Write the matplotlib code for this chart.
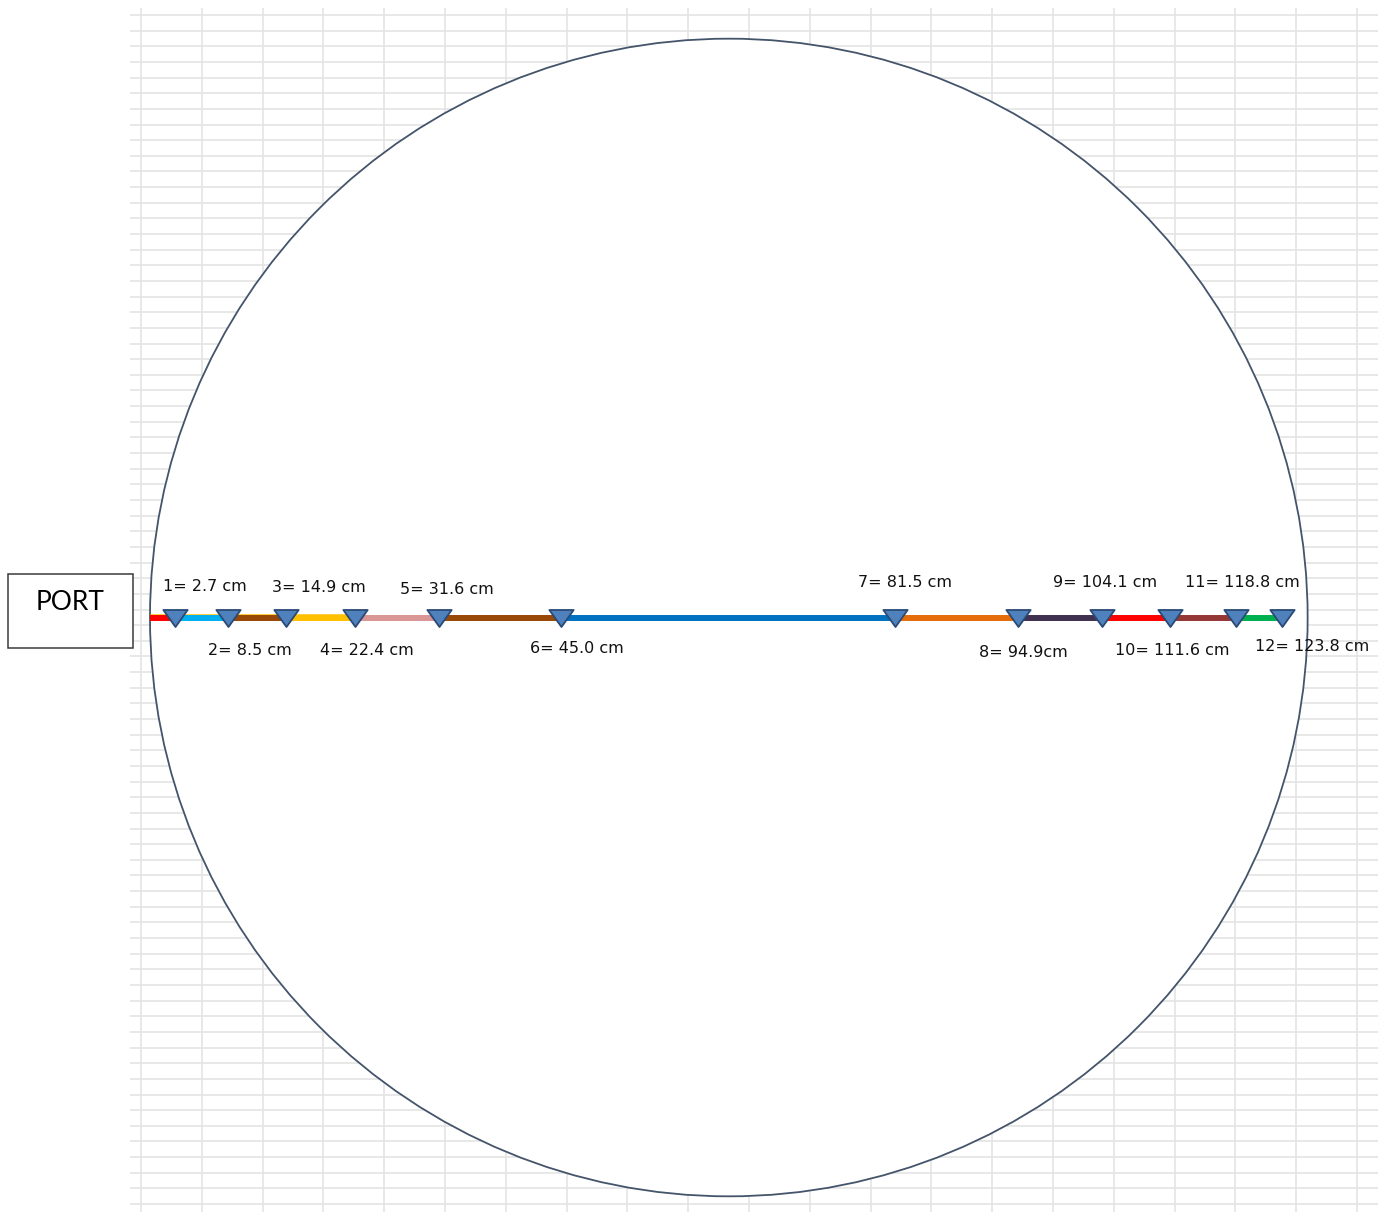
import matplotlib
matplotlib.use("Agg")
import matplotlib.pyplot as plt
from matplotlib.patches import Circle, Rectangle
from matplotlib.path import Path
import numpy as np

# ---------------- data ----------------
positions_cm = [2.7, 8.5, 14.9, 22.4, 31.6, 45.0, 81.5, 94.9, 104.1, 111.6, 118.8, 123.8]
labels = ["1= 2.7 cm", "2= 8.5 cm", "3= 14.9 cm", "4= 22.4 cm", "5= 31.6 cm", "6= 45.0 cm",
          "7= 81.5 cm", "8= 94.9cm", "9= 104.1 cm", "10= 111.6 cm", "11= 118.8 cm", "12= 123.8 cm"]
segment_colors = ["#FF0000", "#00B0F0", "#984807", "#FFC000", "#D99694", "#984807",
                  "#0070C0", "#E46C0A", "#403151", "#FF0000", "#953735", "#00B050"]
vessel_diameter_cm = 126.6
port_label = "PORT"

# ---------------- layout (pixels) ----------------
W, H, DPI = 1390, 1212, 100
px_per_cm = 9.144
x0_px = 150.0          # pixel x of 0 cm
y0_px = 617.5          # pixel y of the line
label_offsets_px = [(30, 31), (22, -33), (33, 30), (12, -33), (8, 28), (15, -31),
                    (10, 35), (6, -35), (3, 35), (2, -33), (6, 35), (30, -29)]

fig = plt.figure(figsize=(W / DPI, H / DPI), dpi=DPI)
fig.patch.set_facecolor("white")

# background spreadsheet grid
gx0, gx1, gy0 = 130, 1378, 8
bg = fig.add_axes([gx0 / W, 0, (gx1 - gx0) / W, (H - gy0) / H])
bg.set_xlim(gx0, gx1)
bg.set_ylim(H, gy0)
bg.set_xticks(141 + 60.8 * np.arange(21))
bg.set_yticks(15 + 15.645 * np.arange(77))
bg.grid(True, color="#E4E4E4", lw=1.2)
bg.tick_params(length=0, labelbottom=False, labelleft=False)
for s in bg.spines.values():
    s.set_visible(False)
bg.set_facecolor("white")

# main axes in cm
ax = fig.add_axes([0, 0, 1, 1])
ax.patch.set_alpha(0)
ax.set_xlim(-x0_px / px_per_cm, (W - x0_px) / px_per_cm)
ax.set_ylim(-(H - y0_px) / px_per_cm, y0_px / px_per_cm)
ax.axis("off")

R = vessel_diameter_cm / 2
ax.add_patch(Circle((R, 0), R, facecolor="white", edgecolor="#44546A", lw=1.3, zorder=1))

# thin yellow band peeking above the first segments
ax.plot([0, positions_cm[3]], [0.3, 0.3], color="#FFC000", lw=1.8,
        solid_capstyle="butt", zorder=2)

starts = [0] + positions_cm[:-1]
for a, b, c in zip(starts, positions_cm, segment_colors):
    ax.plot([a, b], [0, 0], color=c, lw=4.3, solid_capstyle="butt", zorder=3)

tri = Path([(-1, 0.7), (1, 0.7), (0, -0.7), (-1, 0.7)],
           [Path.MOVETO, Path.LINETO, Path.LINETO, Path.CLOSEPOLY])
ax.plot(positions_cm, [0] * len(positions_cm), linestyle="none", marker=tri,
        markersize=17.5, markerfacecolor="#4F81BD", markeredgecolor="#2A4A75",
        markeredgewidth=1.3, zorder=4)

for x, lab, (dx, dy) in zip(positions_cm, labels, label_offsets_px):
    ax.annotate(lab, (x, 0), xytext=(dx, dy), textcoords="offset pixels",
                ha="center", va="center", fontsize=11.5, color="#111111",
                family="DejaVu Sans", zorder=5)

# PORT box
fig.patches.append(Rectangle((8 / W, (H - 648) / H), 125 / W, 74 / H,
                             transform=fig.transFigure, facecolor="white",
                             edgecolor="#3A3A3A", lw=1.1, zorder=5))
fig.text(70.5 / W, 1 - 603 / H, port_label, ha="center", va="center",
         fontsize=19, family="Lato", color="black", zorder=6)

fig.savefig("out.png", dpi=DPI)
